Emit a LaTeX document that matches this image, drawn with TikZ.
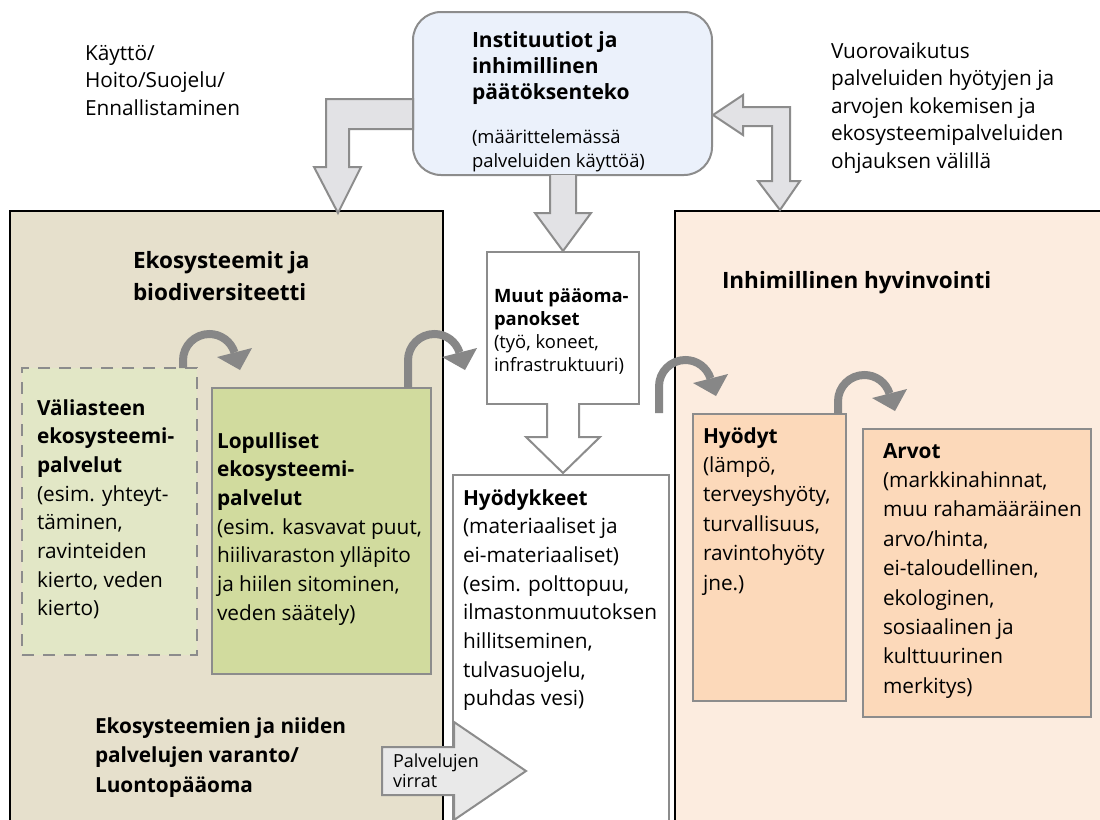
\documentclass[tikz,border=0pt]{standalone}
\usepackage{fontspec}
\setmainfont{Open Sans}
\usetikzlibrary{calc}

\definecolor{edgegray}{HTML}{8C8C8C}
\definecolor{arrowfill}{HTML}{E2E2E5}
\definecolor{instfill}{HTML}{EBF1FB}
\definecolor{ecofill}{HTML}{E6E0CC}
\definecolor{wellfill}{HTML}{FCECDF}
\definecolor{intermfill}{HTML}{E2E7C6}
\definecolor{finalfill}{HTML}{D1DB9E}
\definecolor{benefitfill}{HTML}{FCD9BA}
\definecolor{curvegray}{HTML}{878787}
\definecolor{flowfill}{HTML}{E9E9E9}

\newcommand{\mystrut}{\rule{0pt}{20pt}}
% filled head at the end of a curved arrow
\newcommand{\curvehead}[1]{\fill[curvegray] ($(#1)+(-17.5,-4.5)$) -- ($(#1)+(17.5,4.5)$) -- ($(#1)+(5.5,-17.5)$) -- cycle;}

\tikzset{
  panel/.style={draw=black, line width=2.5pt, anchor=north west, inner sep=0pt, outer sep=0pt},
  box/.style={draw=edgegray, line width=2pt, anchor=north west, inner sep=0pt, outer sep=0pt},
  blockarrow/.style={draw=edgegray, fill=arrowfill, line width=2pt, line join=miter},
  curve/.style={draw=curvegray, line width=8pt},
  txt/.style={anchor=north west, inner sep=0pt, outer sep=0pt, align=left},
  body/.style={font=\fontsize{20.8}{28.7}\selectfont},
}

\begin{document}
\begin{tikzpicture}[x=1pt,y=1pt]
\useasboundingbox (0,0) rectangle (1100,-819);
\fill[white] (0,0) rectangle (1100,-819);

% main panels
\node[panel, fill=ecofill, minimum width=433pt, minimum height=620pt] (eco) at (10,-211) {};
\node[panel, fill=wellfill, minimum width=440pt, minimum height=620pt] (well) at (675,-211) {};

% boxes
\node[box, fill=white, minimum width=216pt, minimum height=360pt] (goods) at (453,-475) {};
\node[box, fill=white, minimum width=152pt, minimum height=152pt] (capital) at (487,-252) {};
\node[box, fill=intermfill, line width=2.5pt, dash pattern=on 12pt off 9pt, minimum width=175pt, minimum height=287pt] (vali) at (22,-368) {};
\node[box, fill=finalfill, minimum width=219pt, minimum height=286pt] (final) at (212,-388) {};
\node[box, fill=benefitfill, minimum width=153pt, minimum height=287pt] (hyodyt) at (693,-414) {};
\node[box, fill=benefitfill, minimum width=228pt, minimum height=288pt] (arvot) at (863,-429) {};
\node[box, fill=instfill, rounded corners=28pt, minimum width=299pt, minimum height=163pt] (inst) at (413,-12) {};

% block arrows
\draw[blockarrow] (413,-99) -- (326,-99) -- (326,-167) -- (314,-167) -- (338,-213)
  -- (361,-167) -- (349,-167) -- (349,-129) -- (413,-129) -- cycle;
\draw[blockarrow] (713,-115) -- (743,-95) -- (743,-107) -- (790,-107) -- (790,-181)
  -- (800,-181) -- (780,-210) -- (758,-181) -- (772,-181) -- (772,-126)
  -- (743,-126) -- (743,-135) -- cycle;
\filldraw[blockarrow] (550,-175) -- (550,-213) -- (535,-213) -- (563,-251)
  -- (591,-213) -- (576,-213) -- (576,-175);
\filldraw[blockarrow, fill=white] (547,-403) -- (547,-437) -- (526,-437) -- (563,-473)
  -- (600,-437) -- (579,-437) -- (579,-403);
\draw[blockarrow, fill=flowfill] (382,-747) -- (454,-747) -- (454,-722) -- (526,-771)
  -- (454,-820) -- (454,-795) -- (382,-795) -- cycle;

% texts
\node[txt, font=\fontsize{20.8}{27.5}\selectfont] (kaytto) at (85,-40)
  {\mystrut Käyttö/\\ Hoito/Suojelu/\\ Ennallistaminen};
\node[txt, font=\fontsize{20.8}{27.5}\selectfont] (vuoro) at (831,-38)
  {\mystrut Vuorovaikutus\\ palveluiden hyötyjen ja\\ arvojen kokemisen ja\\ ekosysteemipalveluiden\\ ohjauksen välillä};
\node[txt, font=\fontsize{21}{26}\selectfont\bfseries] (insttitle) at (472,-27)
  {\mystrut Instituutiot ja\\ inhimillinen\\ päätöksenteko};
\node[txt, font=\fontsize{18.4}{24}\selectfont] (instnote) at (472,-123)
  {\mystrut(määrittelemässä\\ palveluiden käyttöä)};
\node[txt, font=\fontsize{22.5}{32}\selectfont\bfseries] (ecotitle) at (133,-248)
  {\mystrut Ekosysteemit ja\\ biodiversiteetti};
\node[txt, font=\fontsize{22.5}{32}\selectfont\bfseries] (welltitle) at (722,-268)
  {\mystrut Inhimillinen hyvinvointi};
\node[txt, body] (valitext) at (37,-395)
  {\mystrut\textbf{Väliasteen}\\ \textbf{ekosysteemi-}\\ \textbf{palvelut}\\ (esim. yhteyt-\\ täminen,\\ ravinteiden\\ kierto, veden\\ kierto)};
\node[txt, body] (finaltext) at (217,-428)
  {\mystrut\textbf{Lopulliset}\\ \textbf{ekosysteemi-}\\ \textbf{palvelut}\\ (esim. kasvavat puut,\\ hiilivaraston ylläpito\\ ja hiilen sitominen,\\ veden säätely)};
\node[txt, font=\fontsize{18.4}{23.3}\selectfont] (capitaltext) at (494,-282)
  {\mystrut\textbf{Muut pääoma-}\\ \textbf{panokset}\\ (työ, koneet,\\ infrastruktuuri)};
\node[txt, body] (goodstext) at (463,-485)
  {\mystrut\textbf{Hyödykkeet}\\ (materiaaliset ja\\ ei-materiaaliset)\\ (esim. polttopuu,\\ ilmastonmuutoksen\\ hillitseminen,\\ tulvasuojelu,\\ puhdas vesi)};
\node[txt, font=\fontsize{20.8}{29.5}\selectfont\bfseries] (stock) at (95,-713)
  {\mystrut Ekosysteemien ja niiden\\ palvelujen varanto/\\ Luontopääoma};
\node[txt, font=\fontsize{18}{20}\selectfont] (flow) at (393,-747)
  {\mystrut Palvelujen\\ virrat};
\node[txt, font=\fontsize{20.8}{29.4}\selectfont] (hyodyttext) at (703,-423)
  {\mystrut\textbf{Hyödyt}\\ (lämpö,\\ terveyshyöty,\\ turvallisuus,\\ ravintohyöty\\ jne.)};
\node[txt, font=\fontsize{20.8}{29.4}\selectfont] (arvottext) at (883,-438)
  {\mystrut\textbf{Arvot}\\ (markkinahinnat,\\ muu rahamääräinen\\ arvo/hinta,\\ ei-taloudellinen,\\ ekologinen,\\ sosiaalinen ja\\ kulttuurinen\\ merkitys)};

% curved arrows between stages
\draw[curve] ([xshift=-14pt]vali.north east) -- ++(0,7.65)
  arc[start angle=180, end angle=17.3, radius=26.35pt] coordinate (h1);
\curvehead{h1}
\draw[curve] ([xshift=-23pt]final.north east) -- ++(0,27.65)
  arc[start angle=180, end angle=17.3, radius=26.35pt] coordinate (h2);
\curvehead{h2}
\coordinate (c3) at (659,-413);
\draw[curve] (c3) -- ++(0,26.65)
  arc[start angle=180, end angle=17.3, radius=26.35pt] coordinate (h3);
\curvehead{h3}
\draw[curve] ([xshift=-8pt]hyodyt.north east) -- ++(0,12.65)
  arc[start angle=180, end angle=17.3, radius=26.35pt] coordinate (h4);
\curvehead{h4}
\end{tikzpicture}
\end{document}
